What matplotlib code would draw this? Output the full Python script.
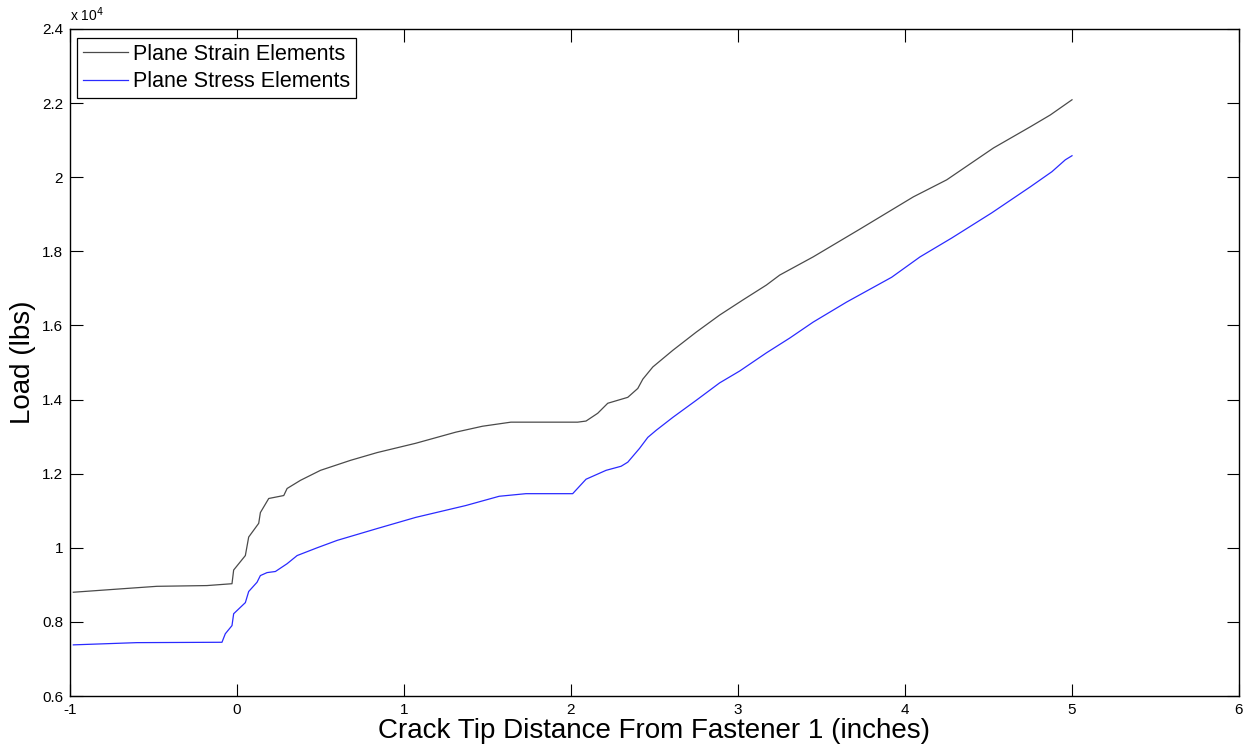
import matplotlib
matplotlib.use("Agg")
import matplotlib.pyplot as plt
from matplotlib.ticker import FuncFormatter

plt.rcParams['font.family'] = ['Liberation Sans', 'DejaVu Sans']
plt.rcParams['axes.unicode_minus'] = False

# Data (load in lbs)
strain_x = [-0.98, -0.7, -0.48, -0.18, -0.03, -0.02, 0.05, 0.07, 0.13, 0.14, 0.19, 0.28,
            0.30, 0.38, 0.50, 0.68, 0.84, 1.07, 1.31, 1.47, 1.64, 2.04, 2.09, 2.16, 2.22,
            2.34, 2.40, 2.43, 2.49, 2.61, 2.75, 2.89, 3.03, 3.17, 3.25, 3.45, 3.73, 4.05,
            4.25, 4.53, 4.75, 4.87, 5.0]
strain_y = [8800, 8890, 8960, 8980, 9030, 9400, 9790, 10290, 10660, 10950, 11330, 11410,
            11600, 11820, 12090, 12360, 12570, 12820, 13120, 13280, 13390, 13390, 13420,
            13630, 13900, 14060, 14300, 14550, 14880, 15330, 15820, 16280, 16690, 17090,
            17360, 17850, 18600, 19470, 19930, 20790, 21360, 21680, 22090]

stress_x = [-0.98, -0.6, -0.09, -0.07, -0.03, -0.02, 0.05, 0.07, 0.12, 0.14, 0.18, 0.23,
            0.30, 0.36, 0.48, 0.60, 0.84, 1.07, 1.37, 1.57, 1.73, 2.01, 2.09, 2.21, 2.30,
            2.34, 2.41, 2.46, 2.51, 2.61, 2.75, 2.89, 3.01, 3.17, 3.31, 3.45, 3.65, 3.92,
            4.09, 4.28, 4.52, 4.75, 4.88, 4.96, 5.0]
stress_y = [7380, 7440, 7450, 7680, 7900, 8220, 8520, 8820, 9070, 9250, 9330, 9360,
            9570, 9790, 10000, 10200, 10520, 10820, 11140, 11390, 11460, 11460, 11850,
            12090, 12200, 12310, 12680, 12980, 13170, 13520, 13980, 14450, 14770, 15260,
            15660, 16090, 16630, 17300, 17850, 18360, 19040, 19740, 20150, 20470, 20580]

x_ticks = [-1, 0, 1, 2, 3, 4, 5, 6]
y_ticks = [6000, 8000, 10000, 12000, 14000, 16000, 18000, 20000, 22000, 24000]

fig = plt.figure(figsize=(12.53, 7.52), dpi=100)
ax = fig.add_axes([70 / 1253, 1 - 696 / 752, 1169 / 1253, 667 / 752])

ax.plot(strain_x, strain_y, color='#4a4a4a', lw=0.9, label='Plane Strain Elements')
ax.plot(stress_x, stress_y, color='#2a2aff', lw=0.9, label='Plane Stress Elements')

ax.set_xlim(-1, 6)
ax.set_ylim(6000, 24000)
ax.set_xticks(x_ticks)
ax.set_yticks(y_ticks)
ax.yaxis.set_major_formatter(FuncFormatter(lambda v, p: '%g' % (v / 1e4)))
ax.tick_params(direction='in', length=9, width=0.8, labelsize=11, pad=5,
               top=True, right=True, colors='black')
for s in ax.spines.values():
    s.set_linewidth(1.0)

ax.text(0, 1.008, r'x 10$^4$', transform=ax.transAxes, fontsize=10, ha='left', va='bottom')

ax.set_xlabel('Crack Tip Distance From Fastener 1 (inches)', fontsize=20, labelpad=1)
ax.set_ylabel('Load (lbs)', fontsize=20, labelpad=4)

leg = ax.legend(loc='upper left', bbox_to_anchor=(7 / 1169, 1 - 9 / 667), borderaxespad=0,
                fontsize=15.5, fancybox=False, framealpha=1, edgecolor='black',
                handlelength=2.1, handletextpad=0.25, labelspacing=0.3, borderpad=0.27)
leg.get_frame().set_linewidth(0.9)

fig.savefig('out.png', dpi=100)
